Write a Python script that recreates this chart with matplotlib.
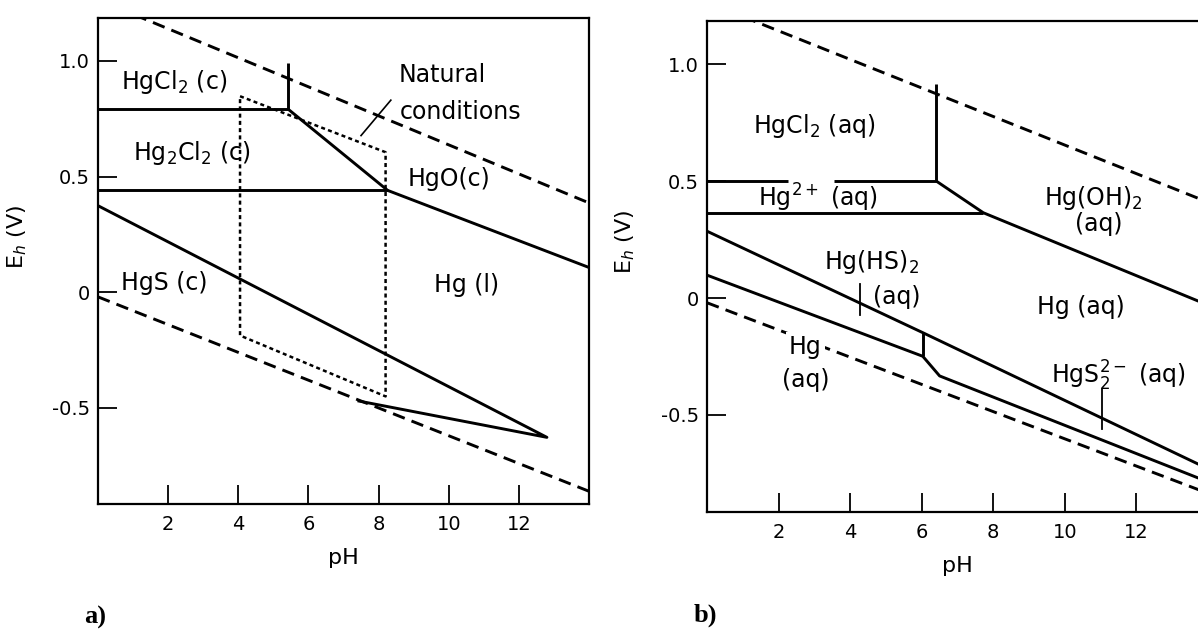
import matplotlib
matplotlib.use("Agg")
import matplotlib.pyplot as plt

plt.rcParams['font.family'] = ['DejaVu Sans']
plt.rcParams['axes.unicode_minus'] = False

# ---- panel a) : Hg-Cl-S-O-H system, solid phases ----
a_water_up_ph = [0, 14]
a_water_up_eh = [1.264, 0.386]
a_water_lo_ph = [0, 14]
a_water_lo_eh = [-0.02, -0.86]

a_hgcl2_ph = [0, 5.43, 5.43]
a_hgcl2_eh = [0.79, 0.79, 0.99]
a_hgo_ph = [5.43, 8.26, 14]
a_hgo_eh = [0.79, 0.44, 0.107]
a_calomel_ph = [0, 8.26]
a_calomel_eh = [0.44, 0.44]
a_hgs_ph = [0, 12.8, 7.4]
a_hgs_eh = [0.374, -0.627, -0.469]

a_natural_ph = [4.05, 8.2, 8.2, 4.05, 4.05]
a_natural_eh = [0.847, 0.605, -0.45, -0.187, 0.847]
a_pointer_ph = [8.35, 7.5]
a_pointer_eh = [0.83, 0.677]

a_labels = ['HgCl$_2$ (c)', 'Hg$_2$Cl$_2$ (c)', 'HgO(c)', 'HgS (c)', 'Hg (l)']
a_label_ph = [2.16, 2.68, 10.0, 1.9, 10.5]
a_label_eh = [0.91, 0.60, 0.49, 0.04, 0.03]

# ---- panel b) : dissolved species ----
b_water_up_ph = [0, 14]
b_water_up_eh = [1.265, 0.41]
b_water_lo_ph = [0, 14]
b_water_lo_eh = [-0.02, -0.835]

b_hg2_top_left_ph = [0, 2.25]
b_hg2_top_left_eh = [0.5, 0.5]
b_hg2_top_right_ph = [3.55, 6.41, 6.41]
b_hg2_top_right_eh = [0.5, 0.5, 0.915]
b_oh_ph = [6.41, 7.72, 14]
b_oh_eh = [0.5, 0.365, -0.03]
b_hg2_bot_ph = [0, 7.72]
b_hg2_bot_eh = [0.365, 0.365]
b_hs_up_ph = [0, 6.03, 14]
b_hs_up_eh = [0.286, -0.148, -0.73]
b_hs_lo_ph = [0, 6.03, 6.5, 14]
b_hs_lo_eh = [0.098, -0.249, -0.333, -0.786]
b_step_ph = [6.03, 6.03]
b_step_eh = [-0.249, -0.148]
b_mark1_ph = [4.27, 4.27]
b_mark1_eh = [0.06, -0.073]
b_mark2_ph = [11.03, 11.03]
b_mark2_eh = [-0.39, -0.56]

b_labels = ['HgCl$_2$ (aq)', 'Hg$^{2+}$ (aq)', 'Hg(OH)$_2$', '(aq)', 'Hg(HS)$_2$',
            '(aq)', 'Hg (aq)', 'Hg', '(aq)', 'HgS$_2^{2-}$ (aq)']
b_label_ph = [3.0, 3.1, 10.8, 10.95, 4.6, 5.3, 10.45, 2.75, 2.75, 11.5]
b_label_eh = [0.735, 0.43, 0.43, 0.316, 0.154, 0.004, -0.04, -0.21, -0.35, -0.335]

xticks = [2, 4, 6, 8, 10, 12]
yticks = [-0.5, 0, 0.5, 1.0]
ytick_labels = ['-0.5', '0', '0.5', '1.0']

W, H = 1198, 630
fig = plt.figure(figsize=(W / 100, H / 100), dpi=100)
ax_a = fig.add_axes([98 / W, (H - 504) / H, 491 / W, 486 / H])
ax_b = fig.add_axes([707 / W, (H - 512) / H, 501 / W, 491 / H])

solid = dict(color='black', lw=2.1, solid_capstyle='butt')
dashed = dict(color='black', lw=2.1, linestyle=(0, (4.3, 2.5)))
fs = 17


def style_axes(ax):
    ax.set_xlim(0, 14)
    ax.set_ylim(-0.915, 1.185)
    ax.set_xticks(xticks)
    ax.set_yticks(yticks)
    ax.set_yticklabels(ytick_labels)
    ax.tick_params(direction='in', length=14, width=1.3, labelsize=14, colors='black')
    ax.tick_params(axis='x', pad=8)
    ax.tick_params(axis='y', pad=6)
    for s in ax.spines.values():
        s.set_linewidth(1.6)
    ax.set_xlabel('pH', fontsize=16, labelpad=10)
    ax.set_ylabel('E$_h$ (V)', fontsize=16)
    ax.yaxis.set_label_coords(-0.14, 0.55)


# panel a
style_axes(ax_a)
ax_a.plot(a_water_up_ph, a_water_up_eh, **dashed)
ax_a.plot(a_water_lo_ph, a_water_lo_eh, **dashed)
ax_a.plot(a_hgcl2_ph, a_hgcl2_eh, **solid)
ax_a.plot(a_hgo_ph, a_hgo_eh, **solid)
ax_a.plot(a_calomel_ph, a_calomel_eh, **solid)
ax_a.plot(a_hgs_ph, a_hgs_eh, **solid)
ax_a.plot(a_natural_ph, a_natural_eh, color='black', lw=1.8, linestyle=(0, (1.6, 1.3)))
ax_a.plot(a_pointer_ph, a_pointer_eh, color='black', lw=1.2)
for t, x, y in zip(a_labels, a_label_ph, a_label_eh):
    ax_a.text(x, y, t, fontsize=fs, ha='center', va='center')
ax_a.text(8.57, 0.94, 'Natural', fontsize=fs, ha='left', va='center')
ax_a.text(8.6, 0.78, 'conditions', fontsize=fs, ha='left', va='center')

# panel b
style_axes(ax_b)
ax_b.plot(b_water_up_ph, b_water_up_eh, **dashed)
ax_b.plot(b_water_lo_ph, b_water_lo_eh, **dashed)
ax_b.plot(b_hg2_top_left_ph, b_hg2_top_left_eh, **solid)
ax_b.plot(b_hg2_top_right_ph, b_hg2_top_right_eh, **solid)
ax_b.plot(b_oh_ph, b_oh_eh, **solid)
ax_b.plot(b_hg2_bot_ph, b_hg2_bot_eh, **solid)
ax_b.plot(b_hs_up_ph, b_hs_up_eh, **solid)
ax_b.plot(b_hs_lo_ph, b_hs_lo_eh, **solid)
ax_b.plot(b_step_ph, b_step_eh, **solid)
ax_b.plot(b_mark1_ph, b_mark1_eh, color='black', lw=1.3)
ax_b.plot(b_mark2_ph, b_mark2_eh, color='black', lw=1.3)
for t, x, y in zip(b_labels, b_label_ph, b_label_eh):
    # the lower water line is broken where the "Hg" label sits
    box = dict(facecolor='white', edgecolor='none', pad=2) if t == 'Hg' else None
    ax_b.text(x, y, t, fontsize=fs, ha='center', va='center', bbox=box)

fig.text(95 / W, 1 - 617 / H, 'a)', fontsize=19, fontweight='bold',
         family='Liberation Serif', ha='center', va='center')
fig.text(705 / W, 1 - 615 / H, 'b)', fontsize=19, fontweight='bold',
         family='Liberation Serif', ha='center', va='center')

fig.savefig('out.png', dpi=100)
